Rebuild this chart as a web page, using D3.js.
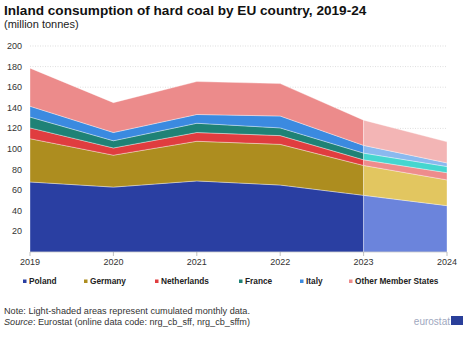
<!DOCTYPE html>
<html>
<head>
<meta charset="utf-8">
<script src="https://cdn.jsdelivr.net/npm/d3@7"></script>
<style>
  body { margin: 0; background: #fff; }
  svg { font-family: "Liberation Sans", Arial, sans-serif; }
</style>
</head>
<body>
<svg id="chart" width="473" height="341"></svg>
<script>
var years = [2019, 2020, 2021, 2022, 2023, 2024];
var countries = ["Poland", "Germany", "Netherlands", "France", "Italy", "Other Member States"];
var poland = [68, 63, 69, 65, 55, 45];
var germany = [42, 31, 38.5, 39.5, 29, 25];
var netherlands = [10.5, 7, 8.5, 8.5, 5.5, 7];
var france = [10.5, 7, 9, 7.5, 6.5, 6];
var italy = [10.5, 8, 8.5, 11.5, 7.5, 3.5];
var other = [37, 29, 32, 31.5, 24.5, 20.5];
var yTicks = [20, 40, 60, 80, 100, 120, 140, 160, 180, 200];
var darkColors = ["#2a3fa2", "#ad8d1f", "#e03d3f", "#1f8276", "#3b8ae0", "#ec8b8b"];
var lightColors = ["#6b84dc", "#e2c660", "#ee8c8c", "#45d6cf", "#8ab9ef", "#f3b5b5"];

var series = [poland, germany, netherlands, france, italy, other];
var rows = years.map(function (y, i) {
  var r = { year: y };
  countries.forEach(function (c, k) { r[c] = series[k][i]; });
  return r;
});

var svg = d3.select("#chart");
var x = d3.scaleLinear().domain([2019, 2024]).range([30, 447]);
var y = d3.scaleLinear().domain([0, 200]).range([252, 46]);

// title
svg.append("text").attr("x", 4).attr("y", 15)
  .style("font-size", "13.6px").style("font-weight", "bold").attr("fill", "#111")
  .text("Inland consumption of hard coal by EU country, 2019-24");
svg.append("text").attr("x", 4).attr("y", 28)
  .style("font-size", "11px").attr("fill", "#222")
  .text("(million tonnes)");

// grid
svg.append("g").selectAll("line").data(yTicks).join("line")
  .attr("x1", 30).attr("x2", 447)
  .attr("y1", function (d) { return y(d); }).attr("y2", function (d) { return y(d); })
  .attr("stroke", "#c8c8c8").attr("stroke-width", 0.6).attr("stroke-dasharray", "1,1.5");

svg.append("g").selectAll("text").data(yTicks).join("text")
  .attr("x", 22).attr("y", function (d) { return y(d) + 3; })
  .attr("text-anchor", "end").style("font-size", "9px").attr("fill", "#333")
  .text(function (d) { return d; });

var stacked = d3.stack().keys(countries)(rows);

var area = d3.area()
  .x(function (d) { return x(d.data.year); })
  .y0(function (d) { return y(d[0]); })
  .y1(function (d) { return y(d[1]); });

var g = svg.append("g");
stacked.forEach(function (s, k) {
  g.append("path").datum(s.filter(function (d) { return d.data.year <= 2023; }))
    .attr("d", area).attr("fill", darkColors[k])
    .attr("stroke", "#fff").attr("stroke-width", 0.5).attr("stroke-opacity", 0.7);
  g.append("path").datum(s.filter(function (d) { return d.data.year >= 2023; }))
    .attr("d", area).attr("fill", lightColors[k])
    .attr("stroke", "#fff").attr("stroke-width", 0.5).attr("stroke-opacity", 0.7);
});

// x axis
var xAxis = svg.append("g").attr("transform", "translate(0,252)");
xAxis.append("line").attr("x1", 30).attr("x2", 447).attr("stroke", "#bbb").attr("stroke-width", 0.6);
xAxis.selectAll(".tk").data(years).join("line")
  .attr("x1", function (d) { return x(d); }).attr("x2", function (d) { return x(d); })
  .attr("y1", 0).attr("y2", 4).attr("stroke", "#999").attr("stroke-width", 0.6);
xAxis.selectAll("text").data(years).join("text")
  .attr("x", function (d) { return x(d); }).attr("y", 13)
  .attr("text-anchor", "middle").style("font-size", "9px").attr("fill", "#333")
  .text(function (d) { return d; });

// legend
var legendX = [23, 84, 155, 239, 300, 349];
var lg = svg.append("g").attr("transform", "translate(0,283)");
countries.forEach(function (c, k) {
  lg.append("rect").attr("x", legendX[k]).attr("y", -3.5).attr("width", 3.5).attr("height", 3.5)
    .attr("fill", darkColors[k]);
  lg.append("text").attr("x", legendX[k] + 6).attr("y", 0.5)
    .style("font-size", "8.3px").style("font-weight", "bold").attr("fill", "#222")
    .text(c);
});

// notes
svg.append("text").attr("x", 4).attr("y", 314)
  .attr("textLength", 246).attr("lengthAdjust", "spacingAndGlyphs")
  .style("font-size", "8.6px").attr("fill", "#333")
  .text("Note: Light-shaded areas represent cumulated monthly  data.");
var src = svg.append("text").attr("x", 4).attr("y", 325)
  .attr("textLength", 246).attr("lengthAdjust", "spacingAndGlyphs")
  .style("font-size", "8.5px").attr("fill", "#333");
src.append("tspan").style("font-style", "italic").text("Source");
src.append("tspan").text(": Eurostat (online data code: nrg_cb_sff, nrg_cb_sffm)");

// logo
svg.append("text").attr("x", 450).attr("y", 325).attr("text-anchor", "end")
  .style("font-size", "10px").attr("fill", "#a0a8c0").text("eurostat");
svg.append("rect").attr("x", 451).attr("y", 316).attr("width", 12).attr("height", 9).attr("fill", "#2a3f9a");
</script>
</body>
</html>
